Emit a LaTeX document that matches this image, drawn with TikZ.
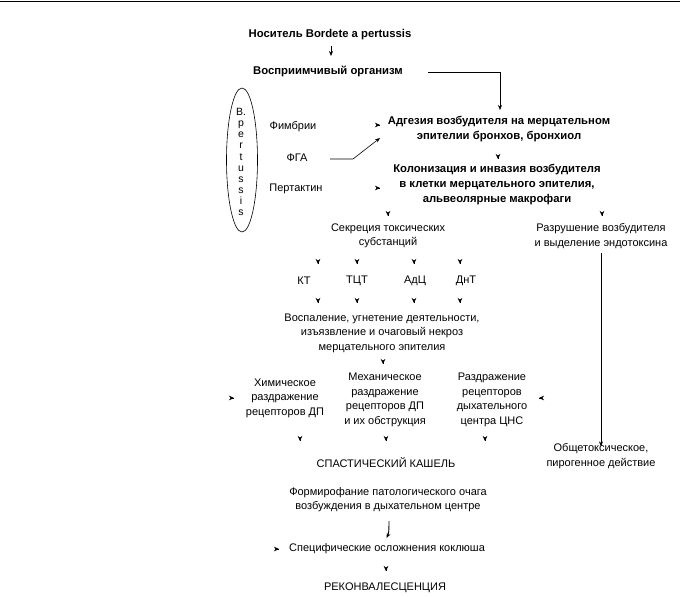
\documentclass[tikz,border=0pt]{standalone}
\usepackage{fontspec}
\setmainfont{Liberation Sans}
\usetikzlibrary{arrows.meta,shapes.geometric}
\begin{document}
\begin{tikzpicture}[x=1pt,y=-1pt,
  txt/.style={inner sep=0pt,align=center,font=\fontsize{11}{14.5}\selectfont},
  btxt/.style={inner sep=0pt,align=center,font=\fontsize{11.3}{15}\selectfont\bfseries},
  conn/.style={line width=0.6pt,-{Stealth[length=5pt,width=4pt]}},
  tipd/.style={line width=0.4pt,-{Stealth[length=5pt,width=4.5pt]}}]
\useasboundingbox (0,0) rectangle (680,597);
\draw[line width=1.5pt] (0,1.5) -- (680,1.5);

% top
\node[btxt] (n1) at (330,35) {Носитель Bordete a pertussis};
\node[btxt] (n2) at (328,71) {Восприимчивый организм};
\node[btxt] (n4) at (499,129.5) {Адгезия возбудителя на мерцательном\\эпителии бронхов, бронхиол};
\node[btxt] (n5) at (497,185) {Колонизация и инвазия возбудителя\\в клетки мерцательного эпителия,\\альвеолярные макрофаги};
\coordinate (a1s) at (331,46);
\coordinate (a1e) at (331,56);
\draw[conn] (a1s) -- (a1e);
\coordinate (l1s) at (428,72);
\coordinate (l1e) at (500,110);
\draw[conn] (l1s) -| (l1e);

% ellipse
\node[draw,ellipse,line width=0.6pt,minimum width=31pt,minimum height=144pt,inner sep=0pt] (ell) at (242,160) {};
\node[inner sep=0pt,align=center,font=\fontsize{10.5}{11.1}\selectfont] (bp) at (241,162) {B.\\p\\e\\r\\t\\u\\s\\s\\i\\s};

\node[txt] (fim) at (293,127) {Фимбрии};
\node[txt] (fga) at (297,158) {ФГА};
\node[txt] (per) at (296,189) {Пертактин};
\coordinate (tf) at (380,125);
\coordinate (tp) at (380,188);
\draw[tipd] ([xshift=-0.1pt]tf) -- (tf);
\draw[tipd] ([xshift=-0.1pt]tp) -- (tp);
\coordinate (fgas) at (330,159);
\coordinate (fgam) at (353,159);
\coordinate (fgae) at (380,138);
\draw[conn] (fgas) -- (fgam) -- (fgae);

% column tips
\coordinate (t1) at (498,159);
\coordinate (t2) at (388,216);
\coordinate (t3) at (602,216);
\foreach \c in {t1,t2,t3} \draw[tipd] ([yshift=0.1pt]\c) -- (\c);

\node[txt] (sec) at (388,236) {Секреция токсических\\субстанций};
\node[txt] (raz) at (601,236) {Разрушение возбудителя\\и выделение эндотоксина};

\foreach \x [count=\i] in {318,357,414,460} {
  \coordinate (u\i) at (\x,264);
  \coordinate (w\i) at (\x,303);
  \draw[tipd] ([yshift=0.1pt]u\i) -- (u\i);
  \draw[tipd] ([yshift=0.1pt]w\i) -- (w\i);
}
\node[txt] (kt) at (304,281) {КТ};
\node[txt] (tct) at (357,281) {ТЦТ};
\node[txt] (adc) at (415,281) {АдЦ};
\node[txt] (dnt) at (466,281) {ДнТ};

\node[txt] (vos) at (382,333) {Воспаление, угнетение деятельности,\\изъязвление и очаговый некроз\\мерцательного эпителия};

\node[txt] (obs) at (601,456) {Общетоксическое,\\пирогенное действие};
\draw[conn] (601,253) -- ([yshift=-3pt]obs.north -| 601,0);

\coordinate (t4) at (383,364);
\draw[tipd] ([yshift=0.1pt]t4) -- (t4);

\node[txt] (him) at (285,398) {Химическое\\раздражение\\рецепторов ДП};
\node[txt] (meh) at (385,400) {Механическое\\раздражение\\рецепторов ДП\\и их обструкция};
\node[txt] (rdc) at (492,400) {Раздражение\\рецепторов\\дыхательного\\центра ЦНС};
\coordinate (t5) at (234,398);
\draw[tipd] ([xshift=-0.1pt]t5) -- (t5);
\coordinate (t6) at (539,398);
\draw[tipd] ([xshift=0.1pt]t6) -- (t6);

\foreach \x [count=\i] in {300,386,485} {
  \coordinate (k\i) at (\x,441);
  \draw[tipd] ([yshift=0.1pt]k\i) -- (k\i);
}

\node[txt] (kash) at (386,463) {СПАСТИЧЕСКИЙ КАШЕЛЬ};
\node[txt] (form) at (388,499.5) {Формирофание патологического очага\\возбуждения в дыхательном центре};

\coordinate (cs) at (389,521);
\coordinate (ce) at (386.5,538);
\draw[conn,line width=0.9pt] (cs) .. controls (389,532) and (388.5,534) .. (ce);

\coordinate (t7) at (279,549);
\draw[tipd] ([xshift=-0.1pt]t7) -- (t7);
\node[txt,anchor=west] (spec) at (289,549) {Специфические осложнения коклюша};

\coordinate (t8) at (386,571);
\draw[tipd] ([yshift=0.1pt]t8) -- (t8);
\node[txt] (rek) at (385,588) {РЕКОНВАЛЕСЦЕНЦИЯ};
\end{tikzpicture}
\end{document}
